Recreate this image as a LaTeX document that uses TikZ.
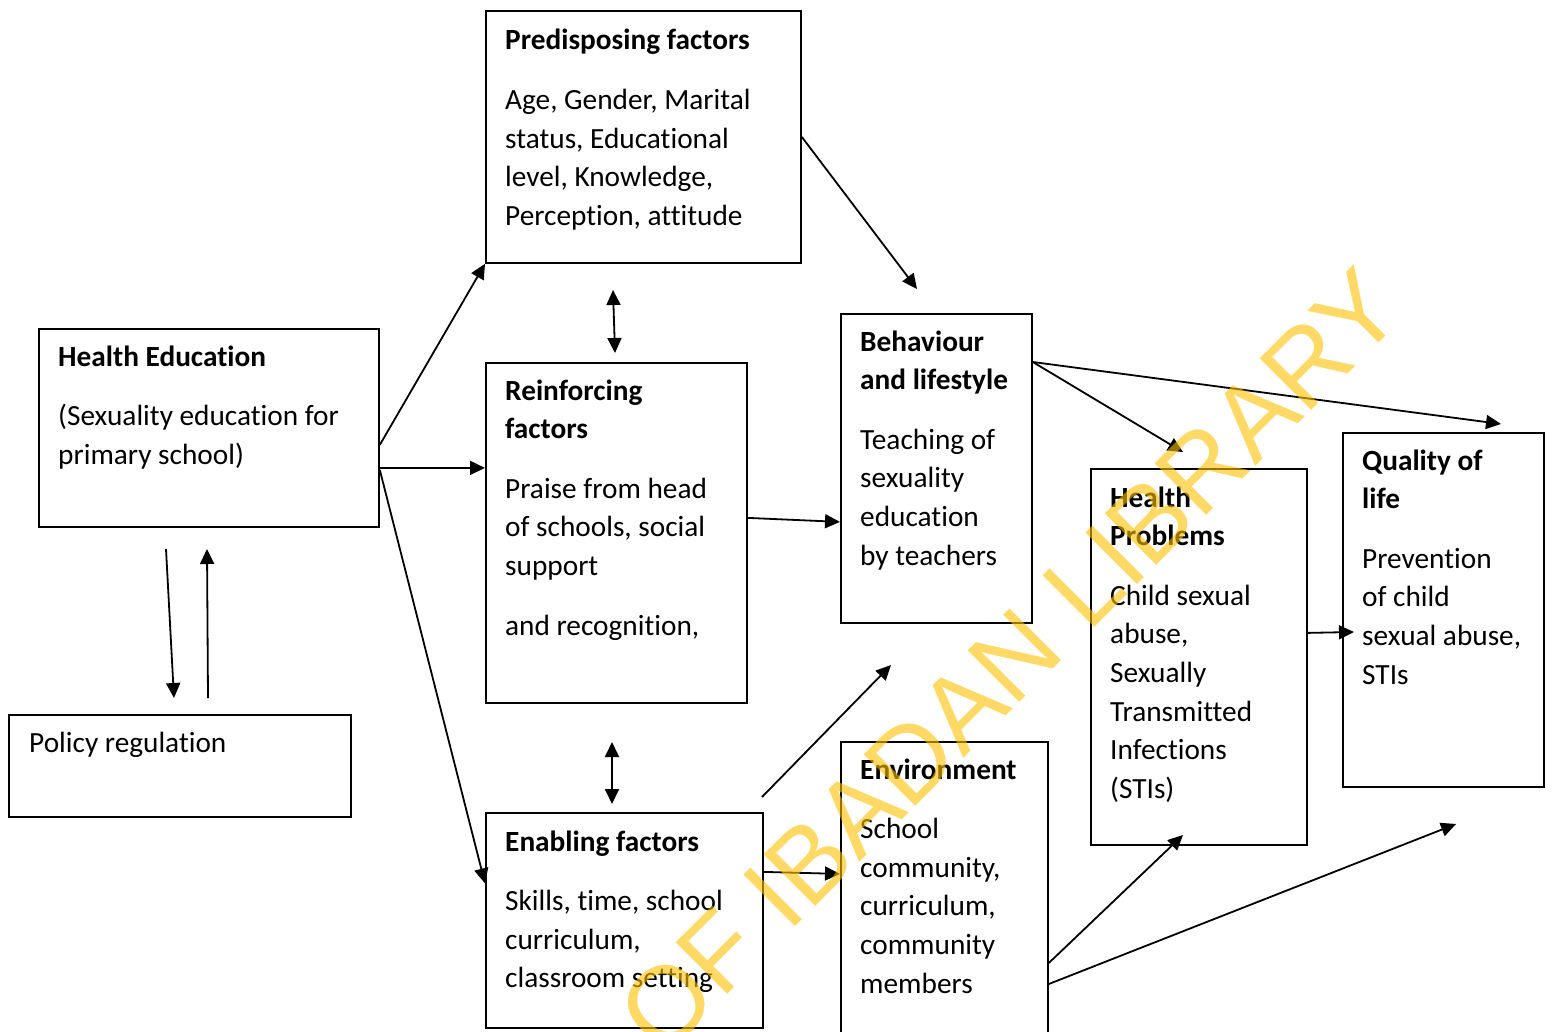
\documentclass[tikz,border=0pt]{standalone}
\usepackage{fontspec}
\setmainfont{Carlito}[Ligatures=NoCommon]
\newfontfamily\wmfont{Liberation Sans}
\usetikzlibrary{arrows.meta}
\definecolor{wmcol}{RGB}{255,192,0}
\tikzset{
  box/.style={draw, line width=1.8pt, anchor=north west, inner sep=0pt},
  txt/.style={anchor=base west, inner sep=0pt, font=\fontsize{29.3}{38.6}\selectfont},
  arr/.style={line width=1.8pt, -{Triangle[length=15pt,width=14pt]}},
  dbl/.style={line width=1.8pt, {Triangle[length=15pt,width=14pt]}-{Triangle[length=15pt,width=14pt]}},
  wm/.style={inner sep=0pt, text=wmcol, text opacity=0.6, font=\wmfont\fontsize{106}{106}\selectfont}
}
\begin{document}
\begin{tikzpicture}[x=1pt,y=-1pt]
\useasboundingbox (0,0) rectangle (1552,1032);
\clip (0,0) rectangle (1552,1032);
\fill[white] (0,0) rectangle (1552,1032);

% boxes
\node[box, minimum width=340pt, minimum height=198pt] (he) at (38,328) {};
\node[box, minimum width=342pt, minimum height=102pt] (pol) at (8,714) {};
\node[box, minimum width=315pt, minimum height=252pt] (pre) at (485,10) {};
\node[box, minimum width=261pt, minimum height=340pt] (rein) at (485,362) {};
\node[box, minimum width=277pt, minimum height=215pt] (en) at (485,812) {};
\node[box, minimum width=191pt, minimum height=309pt] (beh) at (840,313) {};
\node[box, minimum width=207pt, minimum height=310pt] (env) at (840,741) {};
\node[box, minimum width=216pt, minimum height=376pt] (hp) at (1090,468) {};
\node[box, minimum width=201pt, minimum height=354pt] (q) at (1342,432) {};

% texts
\node[txt] (het) at ([shift={(20pt,-38pt)}]he.north west) {\begin{tabular}[t]{@{}l@{}}\textbf{Health Education}\\[21pt] (Sexuality education for\\ primary school)\end{tabular}};
\node[txt] (polt) at ([shift={(21pt,-38pt)}]pol.north west) {Policy regulation};
\node[txt] (pret) at ([shift={(20pt,-40pt)}]pre.north west) {\begin{tabular}[t]{@{}l@{}}\textbf{Predisposing factors}\\[21pt] Age, Gender, Marital\\ status, Educational\\ level, Knowledge,\\ Perception, attitude\end{tabular}};
\node[txt] (reint) at ([shift={(20pt,-38pt)}]rein.north west) {\begin{tabular}[t]{@{}l@{}}\textbf{Reinforcing}\\ \textbf{factors}\\[21pt] Praise from head\\ of schools, social\\ support\\[21pt] and recognition,\end{tabular}};
\node[txt] (beht) at ([shift={(20pt,-38pt)}]beh.north west) {\begin{tabular}[t]{@{}l@{}}\textbf{Behaviour}\\ \textbf{and lifestyle}\\[21pt] Teaching of\\ sexuality\\ education\\ by teachers\end{tabular}};
\node[txt] (ent) at ([shift={(20pt,-39pt)}]en.north west) {\begin{tabular}[t]{@{}l@{}}\textbf{Enabling factors}\\[21pt] Skills, time, school\\ curriculum,\\ classroom setting\end{tabular}};
\node[txt] (envt) at ([shift={(20pt,-38pt)}]env.north west) {\begin{tabular}[t]{@{}l@{}}\textbf{Environment}\\[21pt] School\\ community,\\ curriculum,\\ community\\ members\end{tabular}};
\node[txt] (hpt) at ([shift={(20pt,-39pt)}]hp.north west) {\begin{tabular}[t]{@{}l@{}}\textbf{Health}\\ \textbf{Problems}\\[21pt] Child sexual\\ abuse,\\ Sexually\\ Transmitted\\ Infections\\ (STIs)\end{tabular}};
\node[txt] (qt) at ([shift={(20pt,-38pt)}]q.north west) {\begin{tabular}[t]{@{}l@{}}\textbf{Quality of}\\ \textbf{life}\\[21pt] Prevention\\ of child\\ sexual abuse,\\ STIs\end{tabular}};

% free end points
\coordinate (pd1) at (166,549);
\coordinate (pd2) at (174,698);
\coordinate (pu1) at (208,698);
\coordinate (pu2) at (207,549);
\coordinate (pb) at (917,289);
\coordinate (d1a) at (613,290);
\coordinate (d1b) at (615,353);
\coordinate (d2a) at (612,742);
\coordinate (d2b) at (612,804);
\coordinate (e1) at (762,797);
\coordinate (e2) at (891,665);
\coordinate (bh) at (1183,452);
\coordinate (bq) at (1501,424);
\coordinate (hq) at (1354,632);
\coordinate (v1) at (1183,835);
\coordinate (v2) at (1456,824);

% connectors
\draw[arr] ([yshift=-17pt]he.east) -- (pre.south west);
\draw[arr] ([yshift=-40pt]he.east) -- ([yshift=65pt]rein.west);
\draw[arr] ([yshift=-42pt]he.east) -- ([yshift=37pt]en.west);
\draw[arr] (pd1) -- (pd2);
\draw[arr] (pu1) -- (pu2);
\draw[arr] (pre.east) -- (pb);
\draw[dbl] (d1a) -- (d1b);
\draw[dbl] (d2a) -- (d2b);
\draw[arr] ([yshift=15pt]rein.east) -- ([yshift=-53.5pt]beh.west);
\draw[arr] ([yshift=48.5pt]en.east) -- ([yshift=23pt]env.west);
\draw[arr] (e1) -- (e2);
\draw[arr] ([yshift=-49pt]beh.north east) -- (bh);
\draw[arr] ([yshift=-49pt]beh.north east) -- (bq);
\draw[arr] ([yshift=24pt]hp.east) -- (hq);
\draw[arr] ([yshift=-222pt]env.north east) -- (v1);
\draw[arr] ([yshift=-243pt]env.north east) -- (v2);

% watermark
\node[wm, rotate=45, anchor=base east] (wmk) at (1408,314) {OF IBADAN LIBRARY};
\end{tikzpicture}
\end{document}
